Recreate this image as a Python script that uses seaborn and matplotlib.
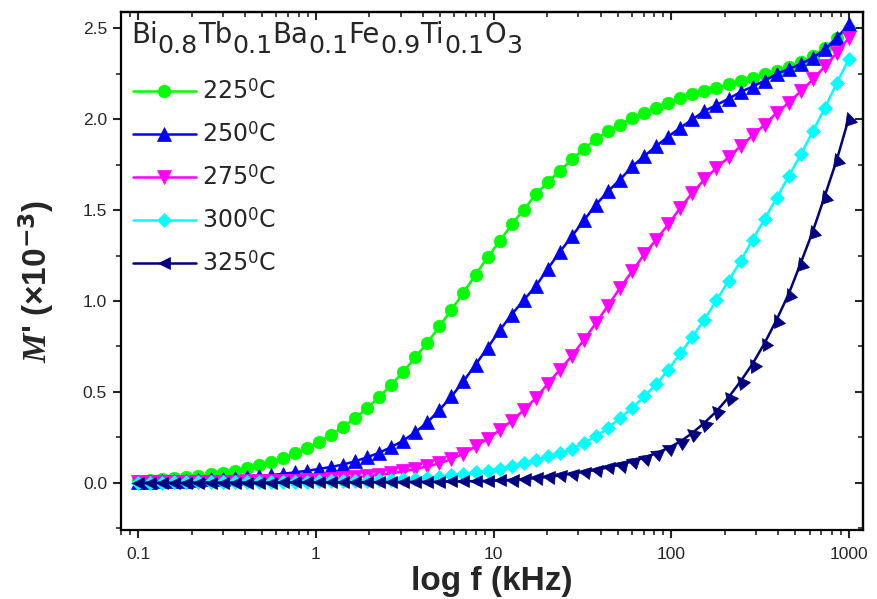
import numpy as np
import pandas as pd
import matplotlib
matplotlib.use("Agg")
import matplotlib.pyplot as plt
import matplotlib.ticker as mticker
from matplotlib.lines import Line2D
from matplotlib.markers import MarkerStyle
from matplotlib.transforms import Affine2D
import seaborn as sns

# ---------------- data ----------------
freq_khz = [0.1000, 0.1169, 0.1367, 0.1597, 0.1867, 0.2183, 0.2552, 0.2983, 0.3487, 0.4076,
            0.4764, 0.5569, 0.6510, 0.7610, 0.8896, 1.040, 1.216, 1.421, 1.661, 1.942,
            2.270, 2.653, 3.101, 3.625, 4.238, 4.954, 5.791, 6.769, 7.913, 9.250,
            10.81, 12.64, 14.78, 17.28, 20.20, 23.61, 27.60, 32.26, 37.71, 44.08,
            51.53, 60.24, 70.42, 82.31, 96.22, 112.5, 131.5, 153.7, 179.7, 210.1,
            245.6, 287.1, 335.6, 392.3, 458.6, 536.1, 626.7, 732.6, 856.4, 1000.0]

m_225 = [0.012, 0.016, 0.020, 0.025, 0.031, 0.038, 0.046, 0.055, 0.066, 0.080,
         0.096, 0.115, 0.137, 0.162, 0.190, 0.224, 0.264, 0.307, 0.356, 0.411,
         0.472, 0.538, 0.610, 0.690, 0.770, 0.860, 0.952, 1.045, 1.145, 1.240,
         1.329, 1.421, 1.503, 1.586, 1.655, 1.716, 1.779, 1.838, 1.889, 1.934,
         1.971, 2.006, 2.037, 2.063, 2.091, 2.116, 2.138, 2.155, 2.173, 2.192,
         2.210, 2.228, 2.247, 2.265, 2.289, 2.314, 2.347, 2.394, 2.449, 2.495]

m_250 = [0.005, 0.006, 0.008, 0.010, 0.012, 0.015, 0.018, 0.021, 0.025, 0.030,
         0.036, 0.042, 0.049, 0.057, 0.066, 0.076, 0.087, 0.100, 0.118, 0.140,
         0.165, 0.196, 0.232, 0.278, 0.332, 0.400, 0.475, 0.558, 0.650, 0.742,
         0.838, 0.925, 1.005, 1.081, 1.178, 1.270, 1.356, 1.444, 1.530, 1.604,
         1.668, 1.740, 1.797, 1.852, 1.905, 1.953, 1.999, 2.045, 2.078, 2.113,
         2.150, 2.180, 2.212, 2.250, 2.276, 2.304, 2.339, 2.384, 2.449, 2.522]

m_275 = [0.002, 0.002, 0.003, 0.003, 0.004, 0.004, 0.005, 0.005, 0.006, 0.007,
         0.008, 0.009, 0.010, 0.012, 0.014, 0.017, 0.021, 0.025, 0.030, 0.036,
         0.043, 0.052, 0.062, 0.075, 0.090, 0.106, 0.130, 0.160, 0.200, 0.240,
         0.290, 0.340, 0.400, 0.466, 0.545, 0.622, 0.698, 0.787, 0.879, 0.975,
         1.072, 1.164, 1.256, 1.338, 1.421, 1.513, 1.595, 1.669, 1.733, 1.790,
         1.852, 1.911, 1.971, 2.036, 2.091, 2.155, 2.219, 2.292, 2.366, 2.449]

m_300 = [0.001, 0.001, 0.001, 0.002, 0.002, 0.002, 0.002, 0.003, 0.003, 0.003,
         0.004, 0.004, 0.005, 0.005, 0.006, 0.007, 0.008, 0.009, 0.010, 0.011,
         0.013, 0.015, 0.018, 0.022, 0.027, 0.033, 0.040, 0.048, 0.057, 0.066,
         0.078, 0.092, 0.107, 0.125, 0.145, 0.163, 0.188, 0.219, 0.255, 0.301,
         0.356, 0.411, 0.475, 0.542, 0.622, 0.712, 0.804, 0.898, 1.003, 1.112,
         1.219, 1.338, 1.452, 1.568, 1.687, 1.806, 1.934, 2.063, 2.201, 2.333]

m_325 = [0.000, 0.000, 0.000, 0.000, 0.000, 0.001, 0.001, 0.001, 0.001, 0.001,
         0.001, 0.001, 0.002, 0.002, 0.002, 0.002, 0.002, 0.002, 0.003, 0.003,
         0.003, 0.004, 0.004, 0.005, 0.005, 0.006, 0.007, 0.008, 0.009, 0.011,
         0.013, 0.016, 0.020, 0.026, 0.032, 0.040, 0.050, 0.060, 0.071, 0.084,
         0.099, 0.117, 0.138, 0.163, 0.191, 0.227, 0.274, 0.330, 0.393, 0.470,
         0.558, 0.655, 0.769, 0.898, 1.040, 1.210, 1.384, 1.580, 1.780, 2.008]

labels = ["225$^{0}$C", "250$^{0}$C", "275$^{0}$C", "300$^{0}$C", "325$^{0}$C"]
colors = ["#00FF00", "#0000FF", "#FF00FF", "#00FFFF", "#000080"]
markers = ["o", "^", "v", "D", "<"]
msizes = [9.0, 10.0, 10.0, 7.5, 9.0]
series = [m_225, m_250, m_275, m_300, m_325]

formula_parts = [("Bi", 0), ("0.8", 1), ("Tb", 0), ("0.1", 1), ("Ba", 0), ("0.1", 1),
                 ("Fe", 0), ("0.9", 1), ("Ti", 0), ("0.1", 1), ("O", 0), ("3", 1)]

x_ticks = [0.1, 1, 10, 100, 1000]
x_ticklabels = ["0.1", "1", "10", "100", "1000"]
y_ticks = [0.0, 0.5, 1.0, 1.5, 2.0, 2.5]

# ---------------- style ----------------
sns.set_style("ticks")
plt.rcParams["font.family"] = ["Liberation Sans", "DejaVu Sans"]
plt.rcParams["mathtext.fontset"] = "custom"
plt.rcParams["mathtext.rm"] = "DejaVu Sans"
plt.rcParams["mathtext.sf"] = "DejaVu Sans"
plt.rcParams["mathtext.it"] = "Liberation Serif:bold:italic"
plt.rcParams["mathtext.bf"] = "DejaVu Sans:bold"

fig = plt.figure(figsize=(8.77, 5.99), dpi=100)
ax = fig.add_axes([121 / 877, 1 - 530 / 599, (863 - 121) / 877, (530 - 12) / 599])

XLIM = (0.08, 1200)
YLIM = (-0.26, 2.59)
ax.set_xscale("log")
ax.set_xlim(*XLIM)
ax.set_ylim(*YLIM)

lw = 1.8
for i, (vals, c, m, ms) in enumerate(zip(series, colors, markers, msizes)):
    df = pd.DataFrame({"f": freq_khz, "M": vals})
    if m == "<":
        sns.lineplot(data=df, x="f", y="M", ax=ax, color=c, lw=lw,
                     estimator=None, sort=False, legend=False, zorder=2 + i)
    else:
        sns.lineplot(data=df, x="f", y="M", ax=ax, color=c, lw=lw, marker=m,
                     markersize=ms, markeredgecolor=c, markeredgewidth=0.5,
                     estimator=None, sort=False, legend=False, zorder=2 + i)

# navy markers oriented by the local on-screen slope (as in the source)
ax.set_xlim(*XLIM)
ax.set_ylim(*YLIM)
pts = ax.transData.transform(np.column_stack([freq_khz, m_325]))
dx = np.gradient(pts[:, 0])
dy = np.gradient(pts[:, 1])
ang = np.degrees(np.arctan2(dy, dx))
for xv, yv, a in zip(freq_khz, m_325, ang):
    mk = MarkerStyle("<", transform=Affine2D().rotate_deg(-a))
    ax.plot([xv], [yv], linestyle="none", marker=mk, markersize=msizes[4],
            color=colors[4], markeredgecolor=colors[4], markeredgewidth=0.5, zorder=7)

ax.set_xlim(*XLIM)
ax.set_ylim(*YLIM)

# ticks
ax.xaxis.set_major_locator(mticker.FixedLocator(x_ticks))
ax.xaxis.set_major_formatter(mticker.FixedFormatter(x_ticklabels))
ax.xaxis.set_minor_locator(mticker.LogLocator(base=10, subs=np.arange(2, 10)))
ax.xaxis.set_minor_formatter(mticker.NullFormatter())
ax.yaxis.set_major_locator(mticker.FixedLocator(y_ticks))
ax.yaxis.set_major_formatter(mticker.FormatStrFormatter("%.1f"))
ax.yaxis.set_minor_locator(mticker.MultipleLocator(0.25))

ax.tick_params(which="major", direction="out", length=6, width=1.5, labelsize=12.5,
               top=False, right=False)
ax.tick_params(axis="x", which="major", pad=6)
ax.tick_params(axis="y", which="major", pad=4)
ax.tick_params(which="minor", direction="out", length=3.5, width=1.2, top=False, right=False)

for sp in ax.spines.values():
    sp.set_linewidth(1.6)
    sp.set_color("black")

secx = ax.secondary_xaxis("top")
secx.xaxis.set_major_locator(mticker.FixedLocator(x_ticks))
secx.xaxis.set_minor_locator(mticker.LogLocator(base=10, subs=np.arange(2, 10)))
secx.tick_params(which="major", direction="in", length=6, width=1.5, labeltop=False)
secx.tick_params(which="minor", direction="in", length=3.5, width=1.2)
secx.xaxis.set_major_formatter(mticker.NullFormatter())
secx.xaxis.set_minor_formatter(mticker.NullFormatter())
secx.spines["top"].set_linewidth(1.6)

secy = ax.secondary_yaxis("right")
secy.yaxis.set_major_locator(mticker.FixedLocator(y_ticks))
secy.yaxis.set_minor_locator(mticker.MultipleLocator(0.25))
secy.tick_params(which="major", direction="in", length=6, width=1.5, labelright=False)
secy.tick_params(which="minor", direction="in", length=3.5, width=1.2)
secy.yaxis.set_major_formatter(mticker.NullFormatter())
secy.spines["right"].set_linewidth(1.6)

ax.set_xlabel("log f (kHz)", fontsize=24, fontweight="bold", labelpad=3)
ax.set_ylabel(r"$\mathit{M}$' (×10$^{\mathbf{-3}}$)", fontsize=24, fontweight="bold")
ax.yaxis.set_label_coords(-0.088, 0.48)

# composition annotation (subscripts nearly full size, as in the source)
renderer = fig.canvas.get_renderer()
fx, fy = 0.0135, 0.940
main_fs = 19.8
cur = 0.0
for s, sub in formula_parts:
    fs = main_fs * (0.92 if sub else 1.0)
    dy_px = -10.0 if sub else 0.0
    t = ax.text(fx, fy, s, transform=ax.transAxes + Affine2D().translate(cur, dy_px),
                fontsize=fs, ha="left", va="baseline", family="DejaVu Sans")
    cur += t.get_window_extent(renderer).width

handles = [Line2D([], [], color=c, lw=lw, marker=m, markersize=ms, markeredgecolor=c,
                  markeredgewidth=0.5) for c, m, ms in zip(colors, markers, msizes)]
ax.legend(handles, labels, loc="upper left", bbox_to_anchor=(0.0155, 0.870),
          frameon=False, prop={"family": "DejaVu Sans", "size": 17},
          handlelength=2.7, handletextpad=0.25, labelspacing=0.76,
          borderpad=0.0, borderaxespad=0.0)

fig.savefig("out.png", dpi=100)
